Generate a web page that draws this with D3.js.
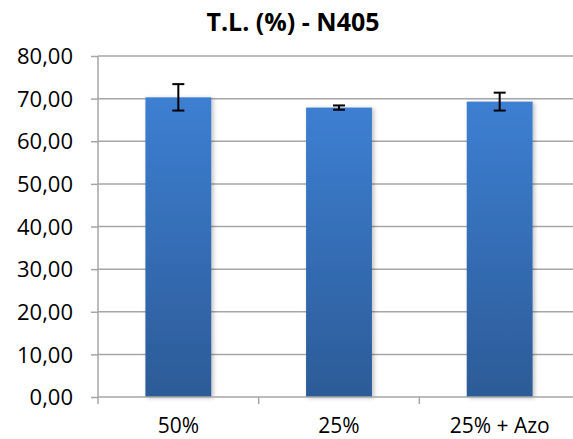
<!DOCTYPE html>
<html><head><meta charset="utf-8">
<script src="https://cdn.jsdelivr.net/npm/d3@7"></script>
<style>body{margin:0;background:#fff}svg{display:block}</style>
</head><body>
<script>
const categories = ["50%", "25%", "25% + Azo"];
const values = [70.3, 67.9, 69.3];
const errors = [3.1, 0.5, 2.1];
const yTicks = [0, 10, 20, 30, 40, 50, 60, 70, 80];
const title = "T.L. (%) - N405";

const W = 573, H = 439;
const svg = d3.select("body").append("svg").attr("width", W).attr("height", H);
const font = "'Open Sans', 'Noto Sans', sans-serif";

const x = d3.scaleBand().domain(categories).range([98, 580]).paddingInner(0.59).paddingOuter(0.295);
const y = d3.scaleLinear().domain([0, 80]).range([397, 56]);

const defs = svg.append("defs");
const g = defs.append("linearGradient").attr("id", "bg").attr("x1", 0).attr("y1", 0).attr("x2", 0).attr("y2", 1);
g.append("stop").attr("offset", "0%").attr("stop-color", "#3d7fd2");
g.append("stop").attr("offset", "100%").attr("stop-color", "#2c5b97");
const f = defs.append("filter").attr("id", "sh").attr("x", "-20%").attr("y", "-5%").attr("width", "140%").attr("height", "110%");
f.append("feDropShadow").attr("dx", 2).attr("dy", 1).attr("stdDeviation", 2).attr("flood-color", "#000").attr("flood-opacity", 0.25);

// gridlines
svg.append("g").selectAll("line").data(yTicks.slice(1)).join("line")
  .attr("x1", 98).attr("x2", W).attr("y1", d => y(d)).attr("y2", d => y(d))
  .attr("stroke", "#a6a6a6").attr("stroke-width", 1.5);

// y axis
const ya = svg.append("g").attr("transform", "translate(98,0)")
  .call(d3.axisLeft(y).tickValues(yTicks).tickSize(7).tickPadding(18)
    .tickFormat(d => d3.format(".2f")(d).replace(".", ",")));
ya.select(".domain").attr("stroke", "#a6a6a6").attr("stroke-width", 1.5).attr("d", `M0,${y(80)}V${y(0)}`);
ya.selectAll(".tick line").attr("stroke", "#a6a6a6").attr("stroke-width", 1.5);
ya.selectAll("text").attr("font-family", font).attr("font-size", 22).attr("fill", "#000").attr("dy", "0.35em");

// bars
svg.append("g").selectAll("rect").data(values).join("rect")
  .attr("x", (d, i) => x(categories[i])).attr("width", x.bandwidth())
  .attr("y", d => y(d)).attr("height", d => y(0) - y(d))
  .attr("fill", "url(#bg)").attr("filter", "url(#sh)");

// x axis
svg.append("line").attr("x1", 98).attr("x2", W).attr("y1", y(0)).attr("y2", y(0))
  .attr("stroke", "#a6a6a6").attr("stroke-width", 1.5);
const step = x.step();
const bounds = [98, 98 + step, 98 + 2 * step];
svg.append("g").selectAll("line").data(bounds).join("line")
  .attr("x1", d => d).attr("x2", d => d).attr("y1", y(0)).attr("y2", y(0) + 7)
  .attr("stroke", "#a6a6a6").attr("stroke-width", 1.5);
svg.append("g").selectAll("text").data(categories).join("text")
  .attr("x", d => x(d) + x.bandwidth() / 2).attr("y", 433)
  .attr("text-anchor", "middle").attr("font-family", font).attr("font-size", 21).text(d => d);

// error bars
const eb = svg.append("g").attr("stroke", "#000").attr("stroke-width", 2);
values.forEach((v, i) => {
  const cx = x(categories[i]) + x.bandwidth() / 2;
  eb.append("line").attr("x1", cx).attr("x2", cx).attr("y1", y(v + errors[i])).attr("y2", y(v - errors[i]));
  [v + errors[i], v - errors[i]].forEach(e => eb.append("line").attr("x1", cx - 6).attr("x2", cx + 6).attr("y1", y(e)).attr("y2", y(e)));
});

// title
svg.append("text").attr("x", 293).attr("y", 31).attr("text-anchor", "middle")
  .attr("font-family", font).attr("font-weight", "bold").attr("font-size", 25).text(title);
</script>
</body></html>
